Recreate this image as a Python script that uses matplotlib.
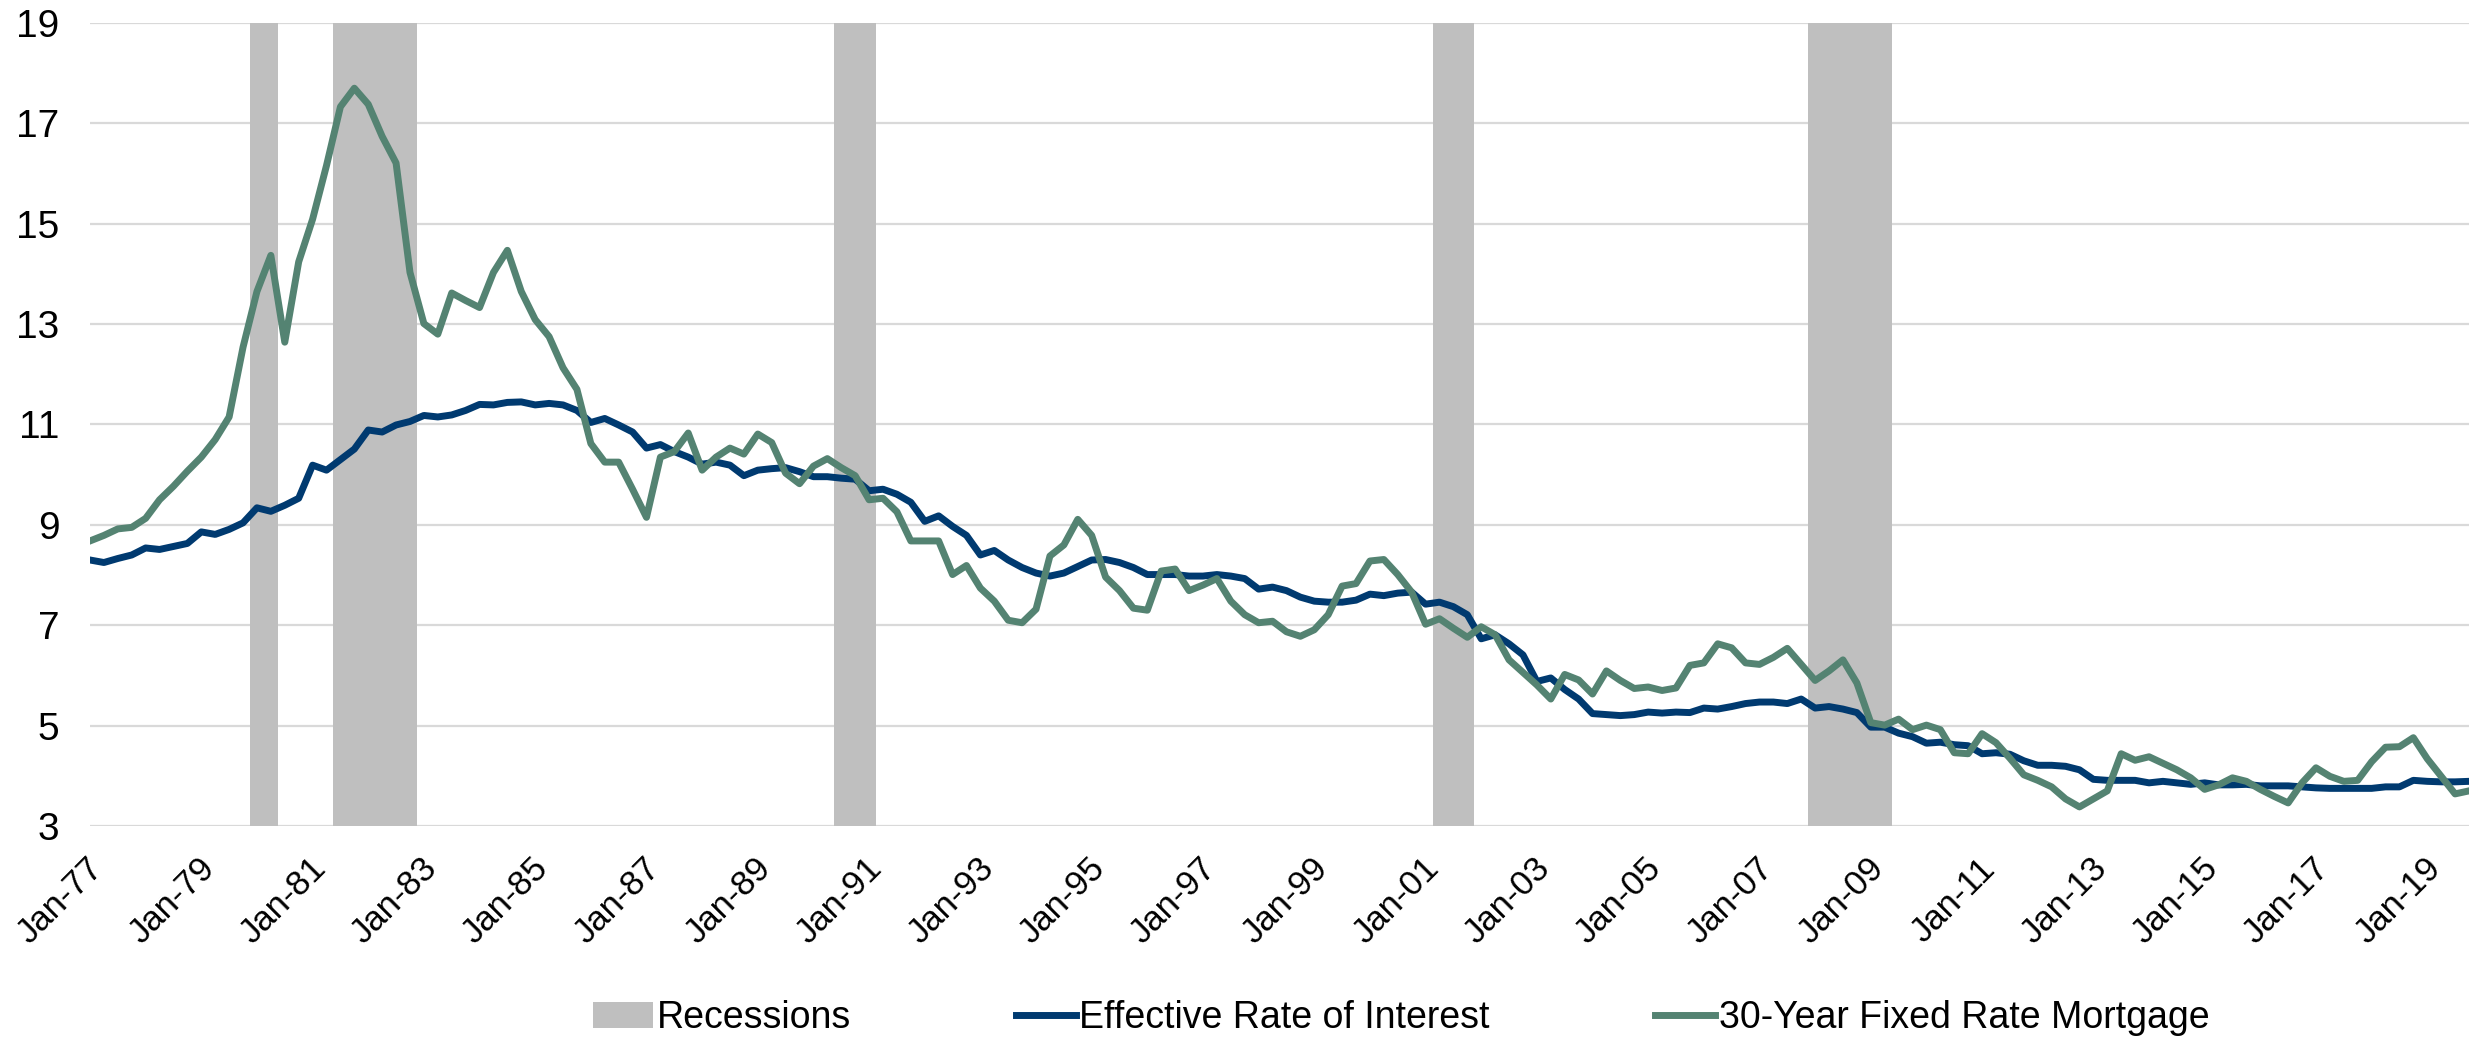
import numpy as np
import matplotlib
matplotlib.use("Agg")
import matplotlib.pyplot as plt
from matplotlib.transforms import ScaledTranslation

plt.rcParams['font.family'] = ['Liberation Sans', 'DejaVu Sans']

# quarterly categories, 1977Q1 .. 2019Q4
quarters = [f"{y}Q{q}" for y in range(1977, 2020) for q in range(1, 5)]

effective_rate = [
    8.30, 8.25, 8.33, 8.40, 8.54, 8.51, 8.57, 8.63, 8.86, 8.81, 8.91, 9.04, 9.34, 9.27, 9.39, 9.53,
    10.19, 10.09, 10.30, 10.51, 10.89, 10.85, 10.99, 11.06, 11.18,
    11.15, 11.19, 11.28, 11.40, 11.39, 11.44, 11.45, 11.39, 11.42, 11.39, 11.28, 11.04, 11.12, 10.99,
    10.85, 10.53, 10.60, 10.46, 10.35, 10.21, 10.25, 10.19, 9.98, 10.09, 10.12, 10.14, 10.06, 9.96,
    9.96, 9.93, 9.91, 9.68, 9.71, 9.61, 9.45, 9.07, 9.18, 8.97, 8.79, 8.40, 8.49, 8.30, 8.15, 8.04,
    7.98, 8.04, 8.17, 8.30, 8.31, 8.25, 8.15, 8.01, 8.01, 8.01, 7.98, 7.98, 8.01,
    7.98, 7.93, 7.72, 7.76, 7.69, 7.56, 7.48, 7.46, 7.46, 7.50, 7.62, 7.59, 7.64, 7.66, 7.42, 7.46,
    7.37, 7.21, 6.73, 6.81, 6.63, 6.41, 5.88, 5.95, 5.72, 5.53, 5.24, 5.22, 5.20,
    5.22, 5.27, 5.25, 5.27, 5.26, 5.35, 5.33, 5.38, 5.44, 5.47, 5.47, 5.44, 5.53, 5.35, 5.38, 5.33,
    5.26, 4.97, 4.97, 4.85, 4.78, 4.65, 4.67, 4.62, 4.60, 4.44, 4.46, 4.43,
    4.30, 4.21, 4.21, 4.19, 4.12, 3.93, 3.91, 3.91, 3.91, 3.86, 3.89, 3.86, 3.83, 3.86, 3.82, 3.82,
    3.83, 3.80, 3.80, 3.80, 3.78, 3.76, 3.75, 3.75, 3.75, 3.75, 3.78, 3.78, 3.91, 3.89, 3.88, 3.88, 3.89,
]

fixed_30yr = [
    8.68, 8.79, 8.92, 8.95, 9.13, 9.50, 9.77, 10.07, 10.35, 10.70, 11.15, 12.54, 13.65, 14.37, 12.64,
    14.24, 15.09, 16.16, 17.33, 17.70, 17.38, 16.74, 16.21, 14.03, 13.01,
    12.80, 13.62, 13.47, 13.33, 14.03, 14.47, 13.65, 13.09, 12.75, 12.13, 11.70, 10.62, 10.25, 10.25,
    9.71, 9.15, 10.35, 10.46, 10.83, 10.09, 10.35, 10.53, 10.41, 10.81, 10.64, 10.03, 9.82, 10.17,
    10.32, 10.14, 9.98, 9.50, 9.53, 9.26, 8.68, 8.68, 8.68, 8.01, 8.19, 7.74, 7.48, 7.10, 7.05, 7.32,
    8.38, 8.60, 9.11, 8.79, 7.96, 7.69, 7.34, 7.30, 8.08, 8.12, 7.69, 7.80, 7.93,
    7.48, 7.21, 7.05, 7.08, 6.87, 6.78, 6.91, 7.21, 7.78, 7.83, 8.28, 8.31, 8.01, 7.66, 7.02, 7.13,
    6.94, 6.76, 6.97, 6.81, 6.31, 6.06, 5.81, 5.53, 6.02, 5.91, 5.63, 6.09, 5.90,
    5.74, 5.77, 5.70, 5.75, 6.20, 6.25, 6.63, 6.55, 6.25, 6.22, 6.36, 6.54, 6.22, 5.90, 6.09, 6.31,
    5.85, 5.06, 5.01, 5.13, 4.92, 5.01, 4.92, 4.46, 4.44, 4.84, 4.66, 4.35,
    4.02, 3.91, 3.78, 3.54, 3.38, 3.54, 3.70, 4.44, 4.31, 4.38, 4.25, 4.12, 3.96, 3.73, 3.82, 3.96,
    3.89, 3.73, 3.59, 3.46, 3.86, 4.16, 3.99, 3.89, 3.91, 4.28, 4.57, 4.58, 4.76, 4.34, 3.99, 3.64, 3.70,
]

recession_quarters = ['1980Q1', '1980Q2',
                      '1981Q3', '1981Q4', '1982Q1', '1982Q2', '1982Q3', '1982Q4',
                      '1990Q3', '1990Q4', '1991Q1',
                      '2001Q2', '2001Q3', '2001Q4',
                      '2008Q1', '2008Q2', '2008Q3', '2008Q4', '2009Q1', '2009Q2']

tick_labels = [f"Jan-{y % 100:02d}" for y in range(1977, 2020, 2)]

x = np.arange(len(quarters))
rec_x = [quarters.index(q) for q in recession_quarters]

fig = plt.figure(figsize=(24.71, 10.44), dpi=100)
ax = fig.add_axes([90 / 2471, 0.2088, 2379 / 2471, 0.7692])

bars = ax.bar(rec_x, [19] * len(rec_x), width=1.0, color='#BFBFBF', label='Recessions', zorder=1)
l1, = ax.plot(x, effective_rate, color='#003A70', lw=5, label='Effective Rate of Interest',
              solid_joinstyle='round', zorder=3)
l2, = ax.plot(x, fixed_30yr, color='#548372', lw=5, label='30-Year Fixed Rate Mortgage',
              solid_joinstyle='round', zorder=4)

ax.set_xlim(0, len(quarters) - 1)
ax.set_ylim(3, 19)
ax.set_yticks(range(3, 20, 2))
ax.set_xticks(x[::8])
ax.set_xticklabels(tick_labels, rotation=45, ha='right', va='center', rotation_mode='anchor')
ax.tick_params(axis='y', length=0, pad=22, labelsize=28)
ax.tick_params(axis='x', length=0, pad=27, labelsize=25)
shift = ScaledTranslation(8 / 100, 0, fig.dpi_scale_trans)
for lab in ax.get_xticklabels():
    lab.set_transform(lab.get_transform() + shift)
ax.grid(axis='y', color='#D9D9D9', lw=1.6, zorder=0)
ax.set_axisbelow(True)
for s in ax.spines.values():
    s.set_visible(False)

fig.legend([bars, l1, l2], [bars.get_label(), l1.get_label(), l2.get_label()],
           loc='center', bbox_to_anchor=(0.567, 0.025), ncol=3, frameon=False,
           fontsize=27, handlelength=1.6, handletextpad=0.1, columnspacing=4.4)

fig.savefig('out.png', dpi=100)
